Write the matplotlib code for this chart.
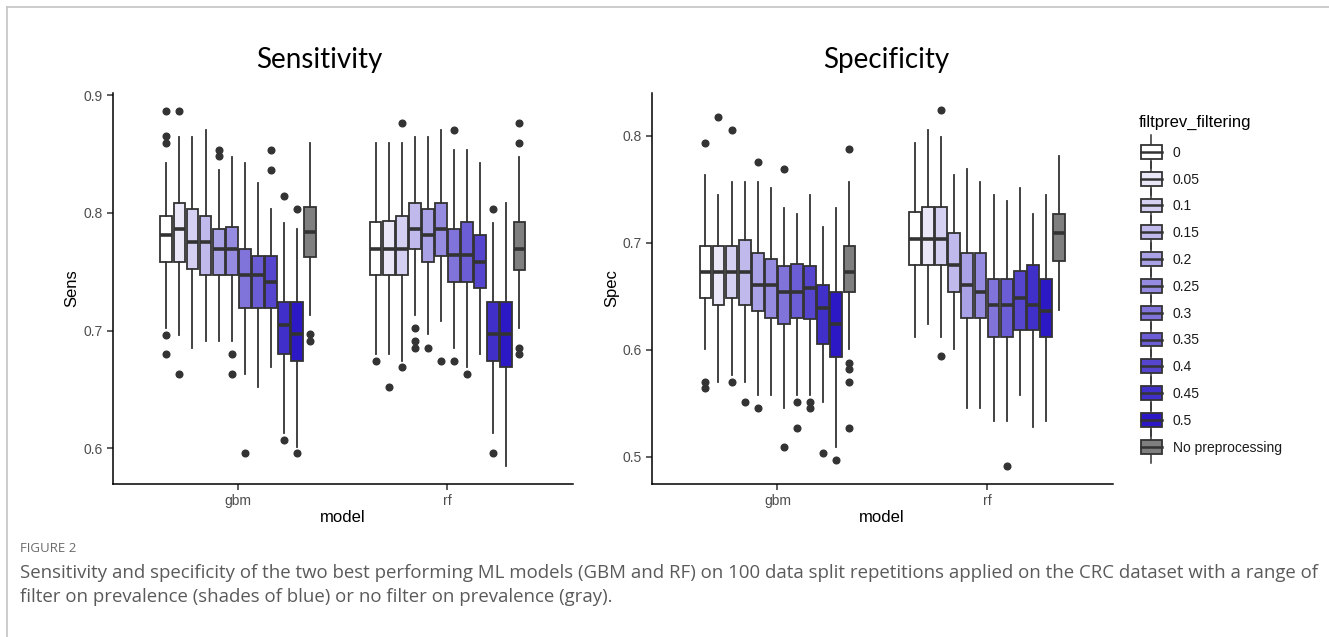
import matplotlib
matplotlib.use("Agg")
import matplotlib.pyplot as plt
from matplotlib.patches import Rectangle
from matplotlib.lines import Line2D
from matplotlib.legend_handler import HandlerBase

# ---------------- data ----------------
models = ["gbm", "rf"]
filt_levels = ["0", "0.05", "0.1", "0.15", "0.2", "0.25", "0.3", "0.35",
               "0.4", "0.45", "0.5", "No preprocessing"]
legend_title = "filtprev_filtering"
fill_colors = ["#FFFFFF", "#E9E7F8", "#D4D0F2", "#BFB9EC", "#AAA2E7", "#958BE1",
               "#8074DB", "#6B5DD5", "#5646CF", "#412FC9", "#2C18C4", "#7F7F7F"]

# Sensitivity - gbm
sens_gbm_q1 = [0.7582, 0.7582, 0.7526, 0.7469, 0.7469, 0.7469, 0.7189, 0.7189, 0.7189, 0.6799, 0.6742, 0.7622]
sens_gbm_med = [0.7809, 0.7862, 0.7755, 0.7755, 0.7693, 0.7693, 0.7469, 0.7469, 0.7415, 0.7050, 0.6968, 0.7837]
sens_gbm_q3 = [0.7976, 0.8086, 0.8032, 0.7976, 0.7862, 0.7879, 0.7693, 0.7636, 0.7636, 0.7246, 0.7246, 0.8046]
sens_gbm_lo = [0.7020, 0.6963, 0.6855, 0.6912, 0.6912, 0.6912, 0.6632, 0.6524, 0.6688, 0.6128, 0.6015, 0.7135]
sens_gbm_hi = [0.8420, 0.8646, 0.8646, 0.8703, 0.8363, 0.8477, 0.8420, 0.8250, 0.8029, 0.7916, 0.7860, 0.8590]
sens_gbm_out = [[0.8867, 0.8652, 0.8590, 0.6966, 0.6799], [0.8867, 0.6632], [], [],
                [0.8536, 0.8480], [0.6799, 0.6632], [0.5961], [], [0.8536, 0.8363],
                [0.8143, 0.6071], [0.8029, 0.5961], [0.6968, 0.6912]]

# Sensitivity - rf
sens_rf_q1 = [0.7469, 0.7469, 0.7469, 0.7693, 0.7582, 0.7636, 0.7415, 0.7415, 0.7359, 0.6742, 0.6688, 0.7512]
sens_rf_med = [0.7693, 0.7693, 0.7693, 0.7862, 0.7809, 0.7862, 0.7645, 0.7645, 0.7582, 0.6968, 0.6968, 0.7693]
sens_rf_q3 = [0.7919, 0.7933, 0.7976, 0.8086, 0.8029, 0.8086, 0.7862, 0.7919, 0.7809, 0.7246, 0.7246, 0.7919]
sens_rf_lo = [0.6799, 0.6799, 0.6742, 0.7135, 0.6968, 0.7079, 0.6855, 0.6688, 0.6799, 0.6128, 0.5851, 0.7022]
sens_rf_hi = [0.8590, 0.8590, 0.8590, 0.8646, 0.8646, 0.8703, 0.8533, 0.8533, 0.8420, 0.7916, 0.8086, 0.8477]
sens_rf_out = [[0.6742], [0.6524], [0.8760, 0.6688], [0.7022, 0.6912, 0.6855], [0.6855], [0.6742],
               [0.8703, 0.6742], [0.6632], [], [0.8029, 0.5961], [], [0.8760, 0.8590, 0.6855, 0.6799]]

# Specificity - gbm
spec_gbm_q1 = [0.6485, 0.6422, 0.6485, 0.6422, 0.6363, 0.6301, 0.6238, 0.6301, 0.6285, 0.6057, 0.5936, 0.6544]
spec_gbm_med = [0.6731, 0.6731, 0.6731, 0.6731, 0.6606, 0.6606, 0.6544, 0.6544, 0.6575, 0.6391, 0.6238, 0.6725]
spec_gbm_q3 = [0.6971, 0.6971, 0.6971, 0.7027, 0.6909, 0.6846, 0.6784, 0.6803, 0.6784, 0.6606, 0.6544, 0.6971]
spec_gbm_lo = [0.6004, 0.5702, 0.5761, 0.5702, 0.5577, 0.5577, 0.5452, 0.5577, 0.5577, 0.5515, 0.5094, 0.6004]
spec_gbm_hi = [0.7632, 0.7451, 0.7573, 0.7573, 0.7573, 0.7510, 0.7330, 0.7267, 0.7451, 0.7149, 0.7330, 0.7573]
spec_gbm_out = [[0.7938, 0.5702, 0.5640], [0.8181], [0.8059, 0.5702], [0.5515], [0.7754, 0.5452], [],
                [0.7694, 0.5091], [0.5515, 0.5272], [0.5515, 0.5452], [0.5031], [0.4969],
                [0.7878, 0.5880, 0.5817, 0.5696, 0.5271]]

# Specificity - rf
spec_rf_q1 = [0.6790, 0.6790, 0.6790, 0.6544, 0.6301, 0.6301, 0.6120, 0.6120, 0.6182, 0.6182, 0.6120, 0.6831]
spec_rf_med = [0.7033, 0.7033, 0.7033, 0.6796, 0.6606, 0.6544, 0.6416, 0.6416, 0.6485, 0.6422, 0.6366, 0.7090]
spec_rf_q3 = [0.7286, 0.7333, 0.7333, 0.7090, 0.6909, 0.6909, 0.6662, 0.6662, 0.6737, 0.6790, 0.6665, 0.7273]
spec_rf_lo = [0.6123, 0.6244, 0.6123, 0.6004, 0.5456, 0.5456, 0.5337, 0.5337, 0.5577, 0.5278, 0.5337, 0.6369]
spec_rf_hi = [0.7938, 0.8056, 0.7994, 0.7632, 0.7694, 0.7573, 0.7451, 0.7389, 0.7510, 0.7267, 0.7451, 0.7813]
spec_rf_out = [[], [], [0.8240, 0.5939], [], [], [], [], [0.4910], [], [], [], []]

sens_yticks = [0.6, 0.7, 0.8, 0.9]
spec_yticks = [0.5, 0.6, 0.7, 0.8]

caption_head = "FIGURE 2"
caption_line1 = ("Sensitivity and specificity of the two best performing ML models (GBM and RF) on 100 data "
                 "split repetitions applied on the CRC dataset with a range of")
caption_line2 = "filter on prevalence (shades of blue) or no filter on prevalence (gray)."

# ---------------- figure ----------------
W, H = 1329, 637
fig = plt.figure(figsize=(W / 100, H / 100), dpi=100)
fig.patch.set_facecolor("white")

EDGE = "#333333"
TICKCOL = "#4D4D4D"
BASEFONT = ["Liberation Sans", "DejaVu Sans"]
TITLEFONT = ["Lato", "DejaVu Sans"]


def fx(px):
    return px / W


def fy(py):
    return 1 - py / H


def make_stats(q1, med, q3, lo, hi, out):
    stats = []
    for i in range(len(q1)):
        stats.append(dict(q1=q1[i], med=med[i], q3=q3[i], whislo=lo[i], whishi=hi[i],
                          fliers=out[i]))
    return stats


def draw_panel(ax, groups, yticks, ylim):
    n = len(filt_levels)
    dodge = 0.75
    slot = dodge / n
    bw = slot * 0.9
    for gi, st in enumerate(groups):
        pos = [gi - dodge / 2 + slot * (k + 0.5) for k in range(n)]
        bp = ax.bxp(st, positions=pos, widths=bw, patch_artist=True, showcaps=False,
                    boxprops=dict(edgecolor=EDGE, linewidth=1.3),
                    medianprops=dict(color=EDGE, linewidth=2.6, solid_capstyle="butt"),
                    whiskerprops=dict(color=EDGE, linewidth=1.3),
                    flierprops=dict(marker="o", markerfacecolor=EDGE, markeredgecolor=EDGE,
                                    markersize=4.8, linestyle="none"),
                    manage_ticks=False)
        for patch, c in zip(bp["boxes"], fill_colors):
            patch.set_facecolor(c)
    ax.set_xlim(-0.6, 1.6)
    ax.set_ylim(*ylim)
    ax.set_xticks(range(len(models)))
    ax.set_xticklabels(models)
    ax.set_yticks(yticks)
    ax.set_yticklabels([f"{t:g}" for t in yticks])
    for s in ["top", "right"]:
        ax.spines[s].set_visible(False)
    for s in ["left", "bottom"]:
        ax.spines[s].set_color("black")
        ax.spines[s].set_linewidth(1.1)
    ax.tick_params(axis="both", length=4, width=1.1, color="#333333", labelcolor=TICKCOL,
                   labelsize=10, pad=3)
    for lab in ax.get_xticklabels() + ax.get_yticklabels():
        lab.set_fontfamily(BASEFONT)


ax1 = fig.add_axes([fx(112.7), fy(484), fx(573 - 112.7), (484 - 93) / H])
ax2 = fig.add_axes([fx(651.7), fy(484), fx(1112.7 - 651.7), (484 - 93) / H])

sens_groups = [make_stats(sens_gbm_q1, sens_gbm_med, sens_gbm_q3, sens_gbm_lo, sens_gbm_hi, sens_gbm_out),
               make_stats(sens_rf_q1, sens_rf_med, sens_rf_q3, sens_rf_lo, sens_rf_hi, sens_rf_out)]
spec_groups = [make_stats(spec_gbm_q1, spec_gbm_med, spec_gbm_q3, spec_gbm_lo, spec_gbm_hi, spec_gbm_out),
               make_stats(spec_rf_q1, spec_rf_med, spec_rf_q3, spec_rf_lo, spec_rf_hi, spec_rf_out)]

draw_panel(ax1, sens_groups, sens_yticks, (0.5698, 0.9017))
draw_panel(ax2, spec_groups, spec_yticks, (0.4745, 0.8402))

# titles and axis labels
fig.text(fx(319), fy(60), "Sensitivity", ha="center", va="center", fontsize=20,
         family=TITLEFONT, color="black")
fig.text(fx(886), fy(60), "Specificity", ha="center", va="center", fontsize=20,
         family=TITLEFONT, color="black")
fig.text(fx(72), fy(288), "Sens", rotation=90, ha="center", va="center", fontsize=12,
         family=BASEFONT, color="black")
fig.text(fx(612), fy(288), "Spec", rotation=90, ha="center", va="center", fontsize=12,
         family=BASEFONT, color="black")
fig.text(fx(343), fy(517), "model", ha="center", va="center", fontsize=12,
         family=BASEFONT, color="black")
fig.text(fx(882), fy(517), "model", ha="center", va="center", fontsize=12,
         family=BASEFONT, color="black")


# legend with boxplot-style keys
class BoxKey(HandlerBase):
    def create_artists(self, legend, orig_handle, xdescent, ydescent, width, height,
                       fontsize, trans):
        fc = orig_handle.get_facecolor()
        x0 = -xdescent
        total = height + ydescent
        y0 = -ydescent
        cy = 0.35 * fontsize
        bh = 10.0
        cx = x0 + width / 2
        wl = Line2D([cx, cx], [cy - total / 2 + 0.6, cy + total / 2 - 0.6], color=EDGE,
                    lw=1.1, transform=trans)
        rect = Rectangle((x0, cy - bh / 2), width, bh, facecolor=fc, edgecolor=EDGE, lw=1.3,
                         transform=trans)
        med = Line2D([x0, x0 + width], [cy, cy], color=EDGE, lw=1.8, transform=trans)
        return [wl, rect, med]


fig.text(fx(1139), fy(122), legend_title, ha="left", va="center", fontsize=12,
         family=BASEFONT, color="black")
handles = [Rectangle((0, 0), 1, 1, facecolor=c) for c in fill_colors]
leg = fig.legend(handles, filt_levels, loc="upper left",
                 bbox_to_anchor=(fx(1141), fy(139.5)), frameon=False, borderpad=0,
                 borderaxespad=0, handlelength=1.5, handleheight=2.5, labelspacing=0.06,
                 handletextpad=0.8, prop=dict(family=BASEFONT, size=10),
                 handler_map={Rectangle: BoxKey()})
for t in leg.get_texts():
    t.set_color("#1a1a1a")

# caption
CAPFONT = ["Open Sans", "DejaVu Sans"]
fig.text(fx(20), fy(548), caption_head, ha="left", va="center", fontsize=9.5,
         family=CAPFONT, color="#6b6b6b")
t1 = fig.text(fx(20), fy(573), caption_line1, ha="left", va="center", fontsize=12,
              family=CAPFONT, color="#5a5a5a")
t2 = fig.text(fx(20), fy(597), caption_line2, ha="left", va="center", fontsize=12,
              family=CAPFONT, color="#5a5a5a")
fig.canvas.draw()
r = fig.canvas.get_renderer()
w1 = t1.get_window_extent(r).width
scale = (1308 - 20) / w1
t1.set_fontsize(12 * scale)
t2.set_fontsize(12 * scale)

# page frame
fig.add_artist(Line2D([fx(6.5), fx(6.5)], [fy(6.5), 0], color="#C4C4C4", lw=1.2,
                      transform=fig.transFigure))
fig.add_artist(Line2D([fx(6.5), 1], [fy(6.5), fy(6.5)], color="#C4C4C4", lw=1.2,
                      transform=fig.transFigure))

fig.savefig("out.png", dpi=100, facecolor="white")
